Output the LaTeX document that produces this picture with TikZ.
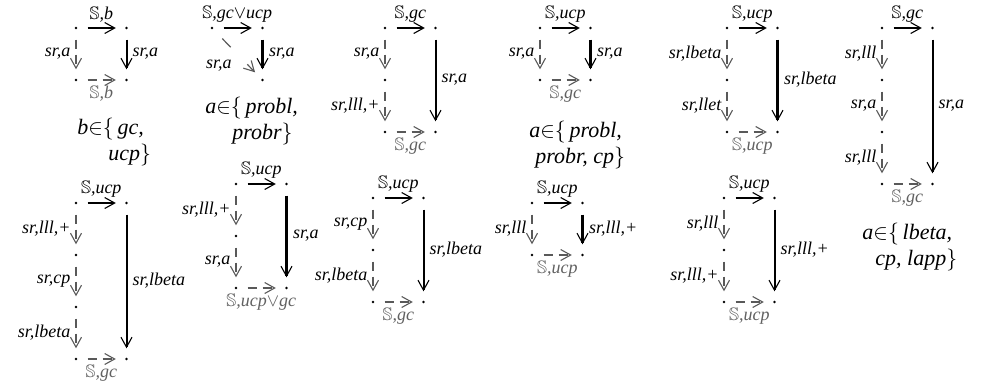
\documentclass[tikz,border=0pt]{standalone}
\usepackage{fontspec}
\usepackage{amssymb}
\setmainfont{Liberation Serif}
\usetikzlibrary{arrows.meta, positioning}
\newcommand{\dblS}{$\mathbb{S}$}
\newcommand{\inset}{$\mathord{\in}\mathord{\{}$\,}
\tikzset{
    cd_dot/.style={
        circle,
        fill=black,
        inner sep=0pt,
        minimum size=1.3pt
    },
    cd_label/.style={
        font=\fontsize{9}{11}\selectfont\itshape,
        inner sep=2.5pt
    },
    cd_gray/.style={
        cd_label,
        text=black!62
    },
    cd_caption/.style={
        font=\fontsize{11}{13}\selectfont\itshape,
        align=left,
        inner sep=0pt,
        anchor=north west
    },
    cd_solid/.style={
        -{Straight Barb[length=5pt, width=5.5pt, line width=0.55pt]},
        line width=1pt,
        shorten >=4.5pt,
        shorten <=5pt
    },
    cd_heavy/.style={
        cd_solid,
        line width=1.6pt
    },
    cd_dashed/.style={
        -{Straight Barb[length=5pt, width=5.5pt, line width=0.55pt]},
        draw=black!65,
        line width=0.6pt,
        dash pattern=on 4.5pt off 3pt,
        shorten >=4.5pt,
        shorten <=5pt
    },
    cd_diag/.style={
        cd_dashed,
        dash pattern=on 6pt off 12pt,
        shorten <=6.5pt
    }
}

\begin{document}
\begin{tikzpicture}[x=0.5pt, y=0.5pt, node distance=26pt and 25.25pt, on grid]
\useasboundingbox (0,0) rectangle (988,-387);

% top row
\node[cd_dot] (aTL) at (76,-28) {};
\node[cd_dot, right=of aTL] (aTR) {};
\node[cd_dot, below=of aTL] (aBL) {};
\node[cd_dot, right=of aBL] (aBR) {};
\node[cd_caption] (aCap) at (77,-118) {b\inset gc,\\\hspace*{15.5pt}ucp$\}$};

\node[cd_dot] (bTL) at (212,-28) {};
\node[cd_dot, right=of bTL] (bTR) {};
\node[cd_dot, below=of bTR] (bBR) {};
\node[cd_caption] (bCap) at (205,-97) {a\inset probl,\\\hspace*{13.5pt}probr$\}$};

\node[cd_dot] (cTL) at (385,-28) {};
\node[cd_dot, right=of cTL] (cTR) {};
\node[cd_dot, below=of cTL] (cM1) {};
\node[cd_dot, below=of cM1] (cBL) {};
\node[cd_dot, right=of cBL] (cBR) {};

\node[cd_dot] (dTL) at (540,-28) {};
\node[cd_dot, right=of dTL] (dTR) {};
\node[cd_dot, below=of dTL] (dBL) {};
\node[cd_dot, right=of dBL] (dBR) {};
\node[cd_caption] (dCap) at (529,-121) {a\inset probl,\\\hspace*{3pt}probr, cp$\}$};

\node[cd_dot] (eTL) at (727,-28) {};
\node[cd_dot, right=of eTL] (eTR) {};
\node[cd_dot, below=of eTL] (eM1) {};
\node[cd_dot, below=of eM1] (eBL) {};
\node[cd_dot, right=of eBL] (eBR) {};

\node[cd_dot] (fTL) at (882,-28) {};
\node[cd_dot, right=of fTL] (fTR) {};
\node[cd_dot, below=of fTL] (fM1) {};
\node[cd_dot, below=of fM1] (fM2) {};
\node[cd_dot, below=of fM2] (fBL) {};
\node[cd_dot, right=of fBL] (fBR) {};
\node[cd_caption] (fCap) at (862,-223) {a\inset lbeta,\\\hspace*{6.5pt}cp, lapp$\}$};

% bottom row
\node[cd_dot] (gTL) at (76,-203) {};
\node[cd_dot, right=of gTL] (gTR) {};
\node[cd_dot, below=of gTL] (gM1) {};
\node[cd_dot, below=of gM1] (gM2) {};
\node[cd_dot, below=of gM2] (gBL) {};
\node[cd_dot, right=of gBL] (gBR) {};

\node[cd_dot] (hTL) at (236,-184) {};
\node[cd_dot, right=of hTL] (hTR) {};
\node[cd_dot, below=of hTL] (hM1) {};
\node[cd_dot, below=of hM1] (hBL) {};
\node[cd_dot, right=of hBL] (hBR) {};

\node[cd_dot] (iTL) at (373,-198) {};
\node[cd_dot, right=of iTL] (iTR) {};
\node[cd_dot, below=of iTL] (iM1) {};
\node[cd_dot, below=of iM1] (iBL) {};
\node[cd_dot, right=of iBL] (iBR) {};

\node[cd_dot] (jTL) at (532,-203) {};
\node[cd_dot, right=of jTL] (jTR) {};
\node[cd_dot, below=of jTL] (jBL) {};
\node[cd_dot, right=of jBL] (jBR) {};

\node[cd_dot] (kTL) at (724,-198) {};
\node[cd_dot, right=of kTL] (kTR) {};
\node[cd_dot, below=of kTL] (kM1) {};
\node[cd_dot, below=of kM1] (kBL) {};
\node[cd_dot, right=of kBL] (kBR) {};

\draw[cd_solid] (aTL) -- node[cd_label, above] (aTop) {\dblS,b} (aTR);
\draw[cd_dashed] (aTL) -- node[cd_label, left] (aL1) {sr,a} (aBL);
\draw[cd_solid] (aTR) -- node[cd_label, right] (aR) {sr,a} (aBR);
\draw[cd_dashed] (aBL) -- node[cd_gray, below] (aBot) {\dblS,b} (aBR);

\draw[cd_solid] (bTL) -- node[cd_label, above] (bTop) {\dblS,gc$\vee$ucp} (bTR);
\draw[cd_diag] (bTL) -- node[cd_label, below left] (bL1) {sr,a} (bBR);
\draw[cd_heavy] (bTR) -- node[cd_label, right] (bR) {sr,a} (bBR);

\draw[cd_solid] (cTL) -- node[cd_label, above] (cTop) {\dblS,gc} (cTR);
\draw[cd_dashed] (cTL) -- node[cd_label, left] (cL1) {sr,a} (cM1);
\draw[cd_dashed] (cM1) -- node[cd_label, left] (cL2) {sr,lll,+} (cBL);
\draw[cd_solid] (cTR) -- node[cd_label, right] (cR) {sr,a} (cBR);
\draw[cd_dashed] (cBL) -- node[cd_gray, below] (cBot) {\dblS,gc} (cBR);

\draw[cd_solid] (dTL) -- node[cd_label, above] (dTop) {\dblS,ucp} (dTR);
\draw[cd_dashed] (dTL) -- node[cd_label, left] (dL1) {sr,a} (dBL);
\draw[cd_heavy] (dTR) -- node[cd_label, right] (dR) {sr,a} (dBR);
\draw[cd_dashed] (dBL) -- node[cd_gray, below] (dBot) {\dblS,gc} (dBR);

\draw[cd_solid] (eTL) -- node[cd_label, above] (eTop) {\dblS,ucp} (eTR);
\draw[cd_dashed] (eTL) -- node[cd_label, left] (eL1) {sr,lbeta} (eM1);
\draw[cd_dashed] (eM1) -- node[cd_label, left] (eL2) {sr,llet} (eBL);
\draw[cd_heavy] (eTR) -- node[cd_label, right] (eR) {sr,lbeta} (eBR);
\draw[cd_dashed] (eBL) -- node[cd_gray, below] (eBot) {\dblS,ucp} (eBR);

\draw[cd_solid] (fTL) -- node[cd_label, above] (fTop) {\dblS,gc} (fTR);
\draw[cd_dashed] (fTL) -- node[cd_label, left] (fL1) {sr,lll} (fM1);
\draw[cd_dashed] (fM1) -- node[cd_label, left] (fL2) {sr,a} (fM2);
\draw[cd_dashed] (fM2) -- node[cd_label, left] (fL3) {sr,lll} (fBL);
\draw[cd_solid] (fTR) -- node[cd_label, right] (fR) {sr,a} (fBR);
\draw[cd_dashed] (fBL) -- node[cd_gray, below] (fBot) {\dblS,gc} (fBR);

\draw[cd_solid] (gTL) -- node[cd_label, above] (gTop) {\dblS,ucp} (gTR);
\draw[cd_dashed] (gTL) -- node[cd_label, left] (gL1) {sr,lll,+} (gM1);
\draw[cd_dashed] (gM1) -- node[cd_label, left] (gL2) {sr,cp} (gM2);
\draw[cd_dashed] (gM2) -- node[cd_label, left] (gL3) {sr,lbeta} (gBL);
\draw[cd_solid] (gTR) -- node[cd_label, right] (gR) {sr,lbeta} (gBR);
\draw[cd_dashed] (gBL) -- node[cd_gray, below] (gBot) {\dblS,gc} (gBR);

\draw[cd_solid] (hTL) -- node[cd_label, above] (hTop) {\dblS,ucp} (hTR);
\draw[cd_dashed] (hTL) -- node[cd_label, left] (hL1) {sr,lll,+} (hM1);
\draw[cd_dashed] (hM1) -- node[cd_label, left] (hL2) {sr,a} (hBL);
\draw[cd_heavy] (hTR) -- node[cd_label, right] (hR) {sr,a} (hBR);
\draw[cd_dashed] (hBL) -- node[cd_gray, below] (hBot) {\dblS,ucp$\vee$gc} (hBR);

\draw[cd_solid] (iTL) -- node[cd_label, above] (iTop) {\dblS,ucp} (iTR);
\draw[cd_dashed] (iTL) -- node[cd_label, left] (iL1) {sr,cp} (iM1);
\draw[cd_dashed] (iM1) -- node[cd_label, left] (iL2) {sr,lbeta} (iBL);
\draw[cd_solid] (iTR) -- node[cd_label, right] (iR) {sr,lbeta} (iBR);
\draw[cd_dashed] (iBL) -- node[cd_gray, below] (iBot) {\dblS,gc} (iBR);

\draw[cd_solid] (jTL) -- node[cd_label, above] (jTop) {\dblS,ucp} (jTR);
\draw[cd_dashed] (jTL) -- node[cd_label, left] (jL1) {sr,lll} (jBL);
\draw[cd_heavy] (jTR) -- node[cd_label, right] (jR) {sr,lll,+} (jBR);
\draw[cd_dashed] (jBL) -- node[cd_gray, below] (jBot) {\dblS,ucp} (jBR);

\draw[cd_solid] (kTL) -- node[cd_label, above] (kTop) {\dblS,ucp} (kTR);
\draw[cd_dashed] (kTL) -- node[cd_label, left] (kL1) {sr,lll} (kM1);
\draw[cd_dashed] (kM1) -- node[cd_label, left] (kL2) {sr,lll,+} (kBL);
\draw[cd_solid] (kTR) -- node[cd_label, right] (kR) {sr,lll,+} (kBR);
\draw[cd_dashed] (kBL) -- node[cd_gray, below] (kBot) {\dblS,ucp} (kBR);

\end{tikzpicture}
\end{document}
